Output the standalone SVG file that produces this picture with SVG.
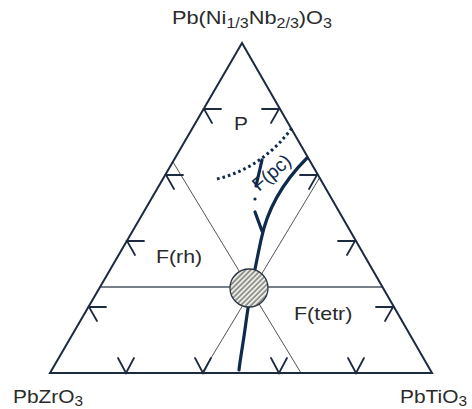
<svg xmlns="http://www.w3.org/2000/svg" width="472" height="409" viewBox="0 0 472 409">
<style>
.lbl{font-family:"Liberation Sans",Arial,sans-serif;font-size:19px;fill:#2a2a2a}
.edge{fill:none;stroke:#1c2b3f;stroke-width:2}
.thin{fill:none;stroke:#555;stroke-width:1}
.hline{fill:none;stroke:#4a5663;stroke-width:1.5}
.mk{fill:none;stroke:#1c2b3f;stroke-width:1.8;stroke-linecap:round;stroke-linejoin:miter}
.thick{fill:none;stroke:#0f2a4a;stroke-width:3.2;stroke-linecap:round}
.dots{fill:none;stroke:#0f2a4a;stroke-width:3;stroke-dasharray:2.6 3}
</style>
<defs>
<pattern id="hatch" patternUnits="userSpaceOnUse" width="3.6" height="3.6" patternTransform="rotate(-45)">
<rect width="3.6" height="3.6" fill="#ecece6"/>
<line x1="0" y1="1" x2="3.6" y2="1" stroke="#555" stroke-width="1.1"/>
</pattern>
</defs>
<g id="labels">
<text class="lbl" transform="translate(172,24) scale(1.146,1)">Pb(Ni<tspan font-size="14" dy="4">1/3</tspan><tspan dy="-4">Nb</tspan><tspan font-size="14" dy="4">2/3</tspan><tspan dy="-4">)O</tspan><tspan font-size="14" dy="4">3</tspan></text>
<text class="lbl" transform="translate(13,403) scale(1.1,1)">PbZrO<tspan font-size="14" dy="3">3</tspan></text>
<text class="lbl" transform="translate(400,403) scale(1.1,1)">PbTiO<tspan font-size="14" dy="3">3</tspan></text>
</g>
<g id="grid">
<line class="hline" x1="100" y1="287" x2="382" y2="287"/>
<line class="thin" x1="173" y1="162" x2="301" y2="373"/>
<line class="thin" x1="320" y1="177" x2="202" y2="373"/>
</g>
<g id="triangle">
<polygon class="edge" points="242,43 50,373 432,373"/>
</g>
<g id="marks">
<path class="mk" d="M221,109 L204,109 L212,123"/>
<path class="mk" d="M183,175 L166,175 L174,189"/>
<path class="mk" d="M144,241 L127,241 L135,255"/>
<path class="mk" d="M106,307 L89,307 L97,321"/>
<path class="mk" d="M262,109 L279,109 L271,123"/>
<path class="mk" d="M300,175 L317,175 L309,189"/>
<path class="mk" d="M338,241 L355,241 L347,255"/>
<path class="mk" d="M376,307 L393,307 L385,321"/>
<path class="mk" d="M118,358 L126,373 L134,358"/>
<path class="mk" d="M195,358 L203,373 L211,358"/>
<path class="mk" d="M271,358 L279,373 L287,358"/>
<path class="mk" d="M348,358 L356,373 L364,358"/>
</g>
<g id="connectors">
<path class="thick" d="M307,158 C287,178 268,205 261,240 C255,268 249,300 246,322 C243,345 240,360 239,370"/>
<path class="dots" d="M217,179 Q262,168 292,128"/>
<line class="thick" x1="262" y1="160" x2="256" y2="186" stroke-width="2.6"/>
<circle cx="255" cy="199" r="1.6" fill="#0f2a4a"/>
<line class="thick" x1="255" y1="212" x2="262" y2="231" stroke-width="2.6"/>
</g>
<g id="mpb">
<circle cx="249" cy="288" r="19" fill="url(#hatch)" stroke="#2a3644" stroke-width="1.3"/>
</g>
<g id="regions">
<text class="lbl" font-size="18" transform="translate(234,130) scale(1.1,1)">P</text>
<text class="lbl" transform="translate(156,263) scale(1.12,1)">F(rh)</text>
<text class="lbl" transform="translate(294,320) scale(1.13,1)">F(tetr)</text>
<text class="lbl" font-size="19" fill="#0f2a4a" style="fill:#0f2a4a" transform="translate(259,192) rotate(-41)">F(pc)</text>
</g>
</svg>
